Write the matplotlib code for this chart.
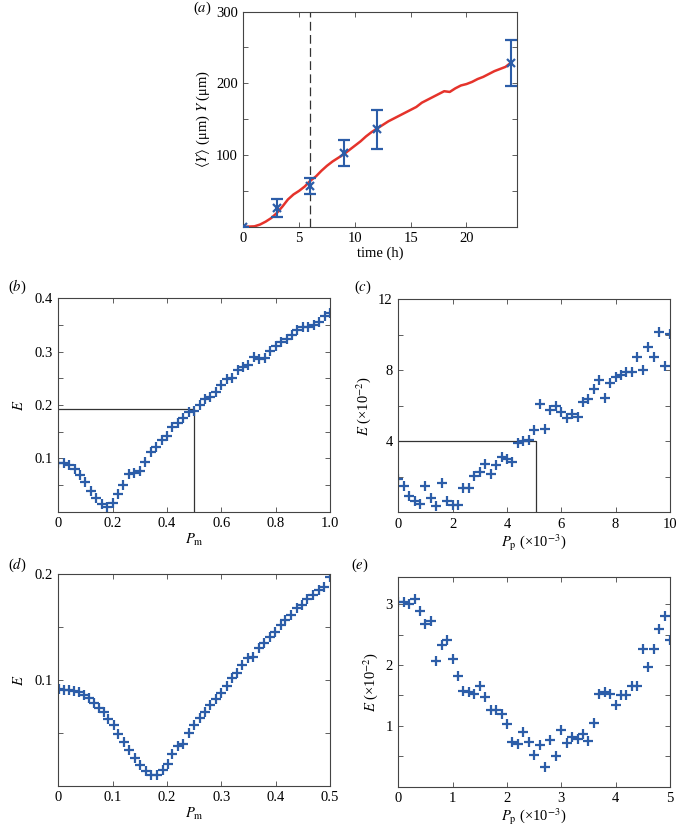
import numpy as np
import matplotlib
matplotlib.use('Agg')
import matplotlib.pyplot as plt

plt.rcParams['font.family'] = ['Liberation Serif', 'DejaVu Serif']
plt.rcParams['mathtext.fontset'] = 'stix'
plt.rcParams['font.size'] = 10.5

BLUE = '#2c5da8'
RED = '#e5332b'
EDGE = '#444444'

# (a) mean position against time
t_curve = [0.3, 1.0, 1.5, 2.0, 2.5, 3.0, 3.5, 4.0, 4.5, 5.0, 5.5, 6.0, 6.5, 7.0, 7.5, 8.0,
           8.5, 9.0, 9.5, 10.0, 10.5, 11.0, 11.5, 12.0, 12.5, 13.0, 13.5, 14.0, 14.5, 15.0,
           15.5, 16.0, 16.5, 17.0, 17.5, 18.0, 18.5, 19.0, 19.5, 20.0, 20.5, 21.0, 21.5,
           22.0, 22.5, 23.0, 23.5, 24.0]
y_curve = [0, 0.5, 3, 7, 12, 19, 28, 38, 45, 50, 56, 64, 70, 78, 85, 91,
           96, 101, 107, 113, 119, 126, 132, 137, 142, 147, 151, 155, 159, 163,
           167, 173, 177, 181, 185, 189, 188, 193, 197, 199, 202, 206, 209,
           213, 217, 220, 223, 229]
t_pts = [0, 3, 6, 9, 12, 24]
y_pts = [0, 26, 57, 103, 136, 228]
y_err = [0, 13, 11, 18, 27, 32]

# (b) E against P_m, coarse scan
pm_b = np.linspace(0, 1, 51)
E_b = [0.092, 0.091, 0.088, 0.080, 0.069, 0.055, 0.038, 0.025, 0.015, 0.009,
       0.017, 0.033, 0.050, 0.070, 0.073, 0.077, 0.094, 0.111, 0.122, 0.134,
       0.142, 0.159, 0.166, 0.175, 0.186, 0.189, 0.200, 0.211, 0.215, 0.225,
       0.238, 0.248, 0.250, 0.266, 0.271, 0.275, 0.290, 0.287, 0.289, 0.301,
       0.311, 0.319, 0.323, 0.331, 0.341, 0.346, 0.347, 0.350, 0.356, 0.367, 0.372]
box_b = (0.5, 0.193)

# (c) E against P_p, coarse scan (E in 1e-2, P_p in 1e-3)
pp_c = np.linspace(0, 10, 51)
E_c = [1.87, 1.50, 0.94, 0.62, 0.49, 1.46, 0.80, 0.37, 1.65, 0.66,
       0.43, 0.43, 1.37, 1.37, 2.06, 2.25, 2.73, 2.15, 2.68, 3.09,
       3.00, 2.83, 3.90, 4.03, 4.08, 4.64, 6.10, 4.70, 5.77, 6.00,
       5.67, 5.30, 5.54, 5.39, 6.24, 6.37, 6.95, 7.45, 6.46, 7.27,
       7.64, 7.73, 7.92, 7.92, 8.73, 8.01, 9.29, 8.73, 10.13, 8.24, 10.07]
box_c = (5.07, 4.0)

# (d) E against P_m, fine scan
pm_d = [0.002, 0.011, 0.020, 0.029, 0.038, 0.047, 0.057, 0.066, 0.075, 0.085,
        0.092, 0.103, 0.110, 0.121, 0.130, 0.141, 0.150, 0.161, 0.171, 0.181,
        0.192, 0.201, 0.210, 0.221, 0.230, 0.241, 0.250, 0.260, 0.270, 0.280,
        0.290, 0.299, 0.310, 0.320, 0.329, 0.339, 0.350, 0.359, 0.369, 0.379,
        0.390, 0.399, 0.410, 0.418, 0.428, 0.439, 0.449, 0.458, 0.468, 0.479,
        0.489, 0.500]
E_d = [0.0912, 0.0910, 0.0905, 0.0896, 0.0883, 0.0858, 0.0826, 0.0779, 0.0732, 0.0700,
       0.0628, 0.0574, 0.0489, 0.0410, 0.0338, 0.0259, 0.0196, 0.0139, 0.0101, 0.0101,
       0.0148, 0.0205, 0.0297, 0.0375, 0.0394, 0.0502, 0.0574, 0.0637, 0.0700, 0.0763,
       0.0820, 0.0880, 0.0943, 0.1016, 0.1063, 0.1142, 0.1205, 0.1220, 0.1300, 0.1347,
       0.1404, 0.1457, 0.1520, 0.1568, 0.1615, 0.1678, 0.1710, 0.1763, 0.1804, 0.1852,
       0.1883, 0.1972]

# (e) E against P_p, fine scan
pp_e = np.linspace(0, 5, 51)
E_e = [3.03, 3.03, 3.00, 3.08, 2.88, 2.67, 2.73, 2.06, 2.32, 2.41,
       2.10, 1.82, 1.58, 1.55, 1.52, 1.65, 1.48, 1.26, 1.26, 1.20,
       1.03, 0.74, 0.70, 0.90, 0.74, 0.52, 0.69, 0.32, 0.77, 0.51,
       0.93, 0.71, 0.82, 0.79, 0.87, 0.75, 1.04, 1.52, 1.55, 1.52,
       1.34, 1.50, 1.50, 1.65, 1.65, 2.26, 1.96, 2.26, 2.59, 2.80, 2.41]


def style(ax):
    for s in ax.spines.values():
        s.set_color(EDGE)
        s.set_linewidth(0.8)
    ax.tick_params(direction='in', top=True, right=True, length=3.5, width=0.6,
                   color=EDGE, labelsize=10.5, pad=4)


fig = plt.figure(figsize=(6.77, 8.27), dpi=100)

# panel (a)
ax = fig.add_axes([0.3594, 0.7259, 0.4038, 0.2600])
ax.plot(t_curve, y_curve, color=RED, lw=1.8, zorder=2)
ax.errorbar(t_pts, y_pts, yerr=y_err, fmt='x', color=BLUE, ms=6, mew=1.6,
            elinewidth=1.5, capsize=4.5, capthick=1.3, zorder=3)
ax.axvline(6, color='#333333', lw=0.9, ls=(0, (7, 3.5)), zorder=1)
ax.set_xlim(0, 24.5)
ax.set_ylim(0, 300)
ax.set_xticks([0, 5, 10, 15, 20])
ax.set_yticks([0, 50, 100, 150, 200, 250, 300])
ax.set_yticklabels(['', '', '100', '', '200', '', '300'])
ax.set_xlabel('time (h)', labelpad=1)
ax.set_ylabel(r'$\langle Y\rangle$ (μm) $Y$ (μm)', labelpad=3)
style(ax)
fig.text(0.298, 0.990, r'($a$)', ha='center', va='center', fontsize=10.5)

# panel (b)
ax = fig.add_axes([0.0861, 0.3813, 0.4013, 0.2580])
ax.plot([0, box_b[0], box_b[0]], [box_b[1], box_b[1], 0], color='#333333', lw=0.9)
ax.plot(pm_b, E_b, '+', color=BLUE, ms=7.5, mew=1.6)
ax.set_xlim(0, 1)
ax.set_ylim(0, 0.4)
ax.set_xticks([0, 0.2, 0.4, 0.6, 0.8, 1.0])
ax.set_xticklabels(['0', '0.2', '0.4', '0.6', '0.8', '1.0'])
ax.set_yticks([0, 0.05, 0.1, 0.15, 0.2, 0.25, 0.3, 0.35, 0.4])
ax.set_yticklabels(['', '', '0.1', '', '0.2', '', '0.3', '', '0.4'])
ax.set_xlabel(r'$P_{\mathrm{m}}$', labelpad=1)
ax.set_ylabel(r'$E$', labelpad=6)
style(ax)
fig.text(0.025, 0.653, r'($b$)', ha='center', va='center', fontsize=10.5)

# panel (c)
ax = fig.add_axes([0.5883, 0.3805, 0.4013, 0.2576])
ax.plot([0, box_c[0], box_c[0]], [box_c[1], box_c[1], 0], color='#333333', lw=0.9)
ax.plot(pp_c, E_c, '+', color=BLUE, ms=7.5, mew=1.6)
ax.set_xlim(0, 10)
ax.set_ylim(0, 12)
ax.set_xticks([0, 2, 4, 6, 8, 10])
ax.set_yticks([0, 2, 4, 6, 8, 10, 12])
ax.set_yticklabels(['', '', '4', '', '8', '', '12'])
ax.set_xlabel(r'$P_{\mathrm{p}}$ (×10$^{-3}$)', labelpad=1)
ax.set_ylabel(r'$E$ (×10$^{-2}$)', labelpad=4)
style(ax)
fig.text(0.536, 0.653, r'($c$)', ha='center', va='center', fontsize=10.5)

# panel (d)
ax = fig.add_axes([0.0861, 0.0499, 0.4013, 0.2556])
ax.plot(pm_d, E_d, '+', color=BLUE, ms=7.5, mew=1.6)
ax.set_xlim(0, 0.5)
ax.set_ylim(0, 0.2)
ax.set_xticks([0, 0.1, 0.2, 0.3, 0.4, 0.5])
ax.set_xticklabels(['0', '0.1', '0.2', '0.3', '0.4', '0.5'])
ax.set_yticks([0, 0.05, 0.1, 0.15, 0.2])
ax.set_yticklabels(['', '', '0.1', '', '0.2'])
ax.set_xlabel(r'$P_{\mathrm{m}}$', labelpad=1)
ax.set_ylabel(r'$E$', labelpad=6)
style(ax)
fig.text(0.025, 0.317, r'($d$)', ha='center', va='center', fontsize=10.5)

# panel (e)
ax = fig.add_axes([0.5883, 0.0487, 0.4013, 0.2540])
ax.plot(pp_e, E_e, '+', color=BLUE, ms=7.5, mew=1.6)
ax.set_xlim(0, 5)
ax.set_ylim(0, 3.45)
ax.set_xticks([0, 1, 2, 3, 4, 5])
ax.set_yticks([0, 0.5, 1, 1.5, 2, 2.5, 3])
ax.set_yticklabels(['', '', '1', '', '2', '', '3'])
ax.set_xlabel(r'$P_{\mathrm{p}}$ (×10$^{-3}$)', labelpad=1)
ax.set_ylabel(r'$E$ (×10$^{-2}$)', labelpad=4)
style(ax)
fig.text(0.532, 0.317, r'($e$)', ha='center', va='center', fontsize=10.5)

fig.savefig('out.png', dpi=100)
